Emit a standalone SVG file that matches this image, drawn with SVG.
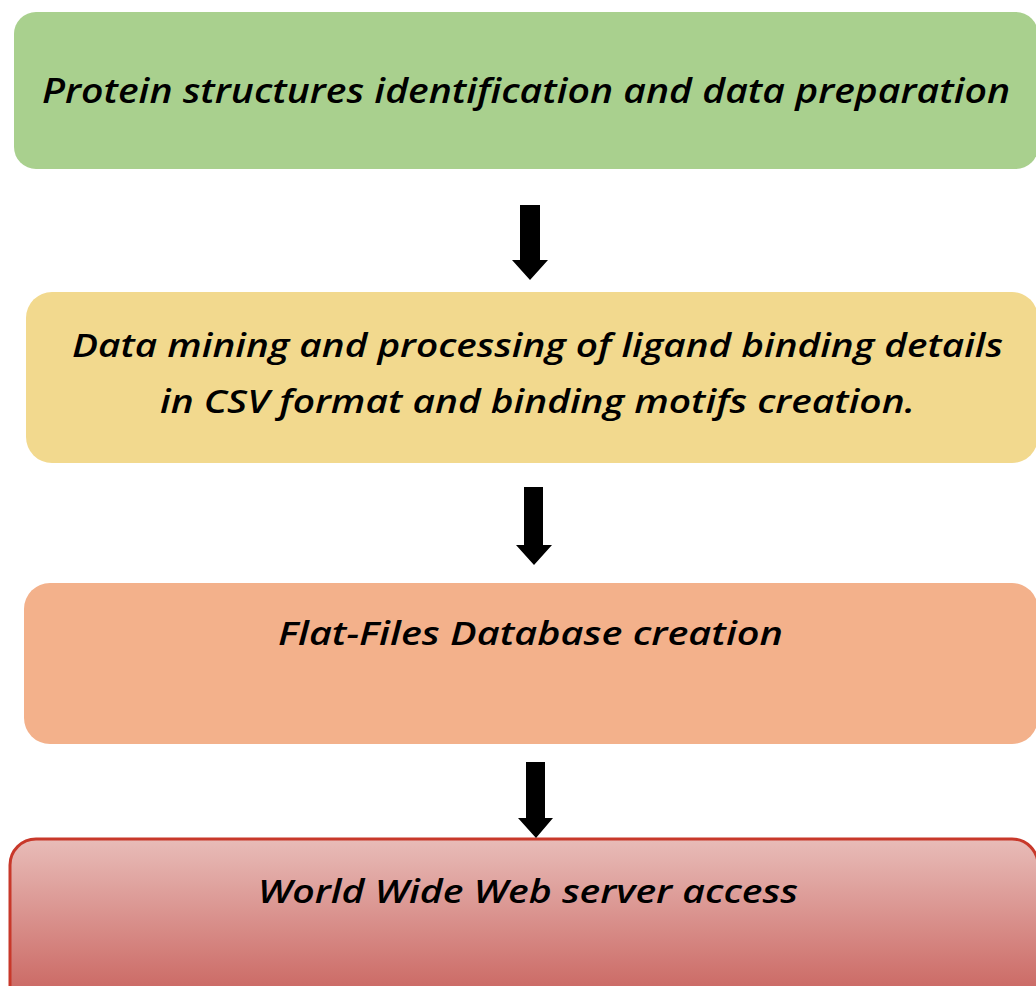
<svg xmlns="http://www.w3.org/2000/svg" width="1036" height="986" viewBox="0 0 1036 986">
<style>
.t{font-family:"Open Sans","DejaVu Sans",sans-serif;font-weight:600;font-style:italic;fill:#000;}
.arr{fill:#000;}
</style>
<defs>
<linearGradient id="g4" x1="0" y1="0" x2="0" y2="1">
<stop offset="0" stop-color="#e8bcb8"/>
<stop offset="1" stop-color="#c65a55"/>
</linearGradient>
</defs>
<rect width="1036" height="986" fill="#fff"/>
<g id="node1">
<rect x="14" y="12" width="1024" height="157" rx="22" fill="#a9d08e"/>
<text class="t" x="42" y="103" font-size="34" textLength="968" lengthAdjust="spacingAndGlyphs">Protein structures identification and data preparation</text>
</g>
<g id="node2">
<rect x="26" y="292" width="1012" height="171" rx="26" fill="#f2d98e"/>
<text class="t" x="72" y="357" font-size="32" textLength="931" lengthAdjust="spacingAndGlyphs">Data mining and processing of ligand binding details</text>
<text class="t" x="160" y="413" font-size="32" textLength="755" lengthAdjust="spacingAndGlyphs">in CSV format and binding motifs creation.</text>
</g>
<g id="node3">
<rect x="24" y="583" width="1014" height="161" rx="26" fill="#f3b18b"/>
<text class="t" x="278" y="645" font-size="32" textLength="505" lengthAdjust="spacingAndGlyphs">Flat-Files Database creation</text>
</g>
<g id="node4">
<rect x="10" y="839" width="1028" height="180" rx="26" fill="url(#g4)" stroke="#c8382a" stroke-width="3"/>
<text class="t" x="258" y="903" font-size="32" textLength="540" lengthAdjust="spacingAndGlyphs">World Wide Web server access</text>
</g>
<g id="connectors">
<path class="arr" d="M520,205 H540 V260 H548 L530,280 L512,260 H520 Z"/>
<path class="arr" d="M524,487 H543 V545 H552 L534,565 L516,545 H524 Z"/>
<path class="arr" d="M526,762 H545 V818 H553 L536,838 L518,818 H526 Z"/>
</g>
</svg>
